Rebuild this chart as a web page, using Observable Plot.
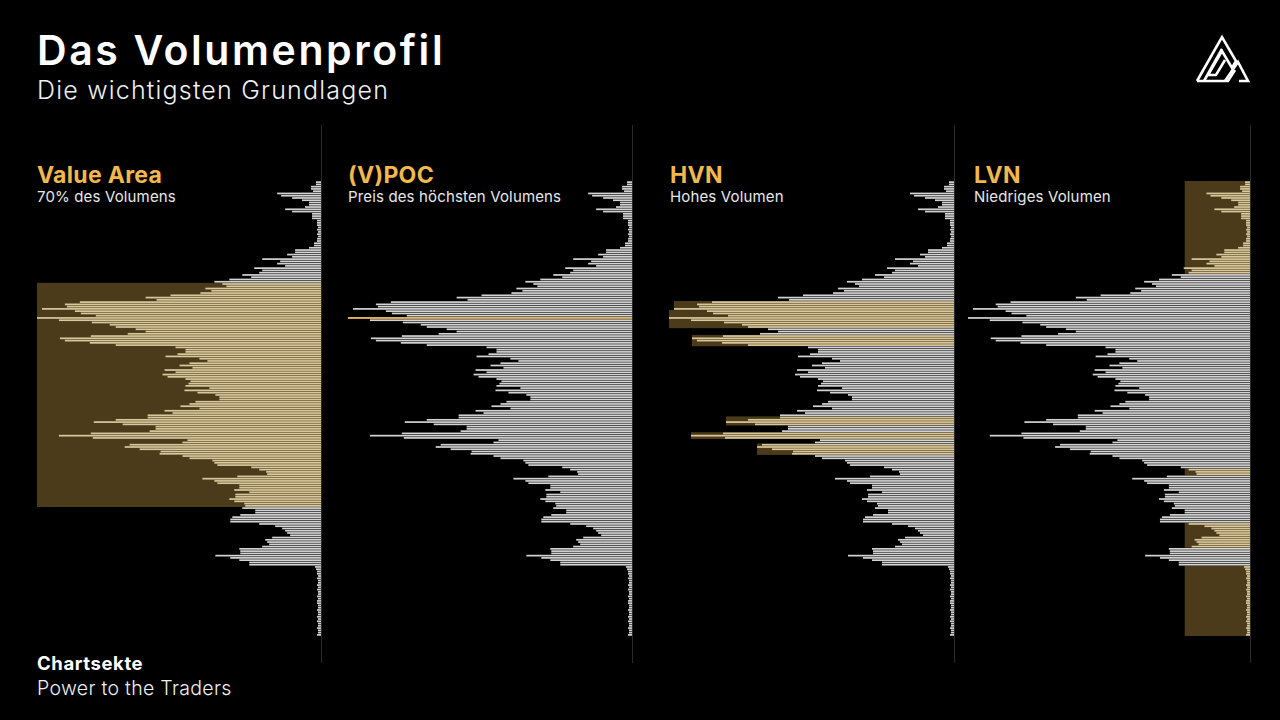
<!DOCTYPE html>
<html><head><meta charset="utf-8">
<script src="https://cdn.jsdelivr.net/npm/d3@7"></script>
<script src="https://cdn.jsdelivr.net/npm/@observablehq/plot@0.6"></script>
<style>
html,body{margin:0;padding:0;background:#000;}
body{width:1280px;height:720px;position:relative;overflow:hidden;font-family:Inter,"Open Sans",sans-serif;color:#fff;}
.t{position:absolute;white-space:nowrap;line-height:1;}
.panel{position:absolute;}
.divider{position:absolute;width:1px;background:#2a2a2a;}
</style></head><body>
<script>
// Volume per price row, top (highest price) to bottom
const volume = [
  5,5,10,10,8,44,40,29,19,12,
  12,16,36,29,9,9,9,4,4,4,
  3,4,3,4,3,4,4,7,7,12,
  26,26,34,29,59,41,44,36,67,59,
  62,79,70,92,107,99,95,116,110,121,
  151,176,165,242,257,255,280,247,241,226,
  285,263,230,212,206,186,176,194,231,262,
  257,232,206,146,136,136,144,156,122,114,
  132,142,129,157,146,159,154,136,131,133,
  136,112,137,124,106,102,102,126,132,141,
  122,
  157,149,174,174,206,228,199,166,166,172,
  231,263,229,134,139,192,197,182,161,162,
  139,132,109,107,104,70,62,55,54,84,
  119,107,104,82,82,87,72,86,86,92,
  87,77,76,79,66,66,81,89,91,91,
  62,
  46,39,36,34,31,49,56,54,52,59,
  82,81,81,106,91,82,72,72,6,5,
  4,4,3,4,3,3,4,3,4,3,
  3,4,3,4,4,3,3,4,3,3,
  4,3,4,3,3,4,3,3,4
];
const panelTitles = ["Value Area", "(V)POC", "HVN", "LVN"];
const panelSubtitles = ["70% des Volumens", "Preis des höchsten Volumens", "Hohes Volumen", "Niedriges Volumen"];
const valueAreaRows = [[45, 143]];
const hvnRows = [[53, 56], [57, 64], [68, 72], [104, 107], [111, 113], [116, 120]];
const lvnRows = [[0, 40], [127, 129], [151, 161], [170, 200]];
const lvnThreshold = 66;
const title = "Das Volumenprofil";
const subtitle = "Die wichtigsten Grundlagen";
const footer = ["Chartsekte", "Power to the Traders"];

// styling / layout
const GRAY = "#d3d3d3", TAN = "#d9c89c", BROWN = "#4b3b1b", GOLD = "#f2b84b", POC = "#e6b55a";
const layout = [[37, 321, 37], [348, 632, 348], [669, 954, 670], [968, 1250, 974]];
const TOP = 170, H = 470;

const maxV = d3.max(volume);
const pocIndex = d3.maxIndex(volume);
const rows = volume.map((v, i) => ({i, v}));
const zoneMax = ([s, e]) => d3.max(volume.slice(s, e + 1));

function addText(txt, x, baseline, size, weight, color, ls) {
  const d = document.createElement("div");
  d.className = "t";
  d.textContent = txt;
  d.style.left = x + "px";
  d.style.top = (baseline - 0.86 * size) + "px";
  d.style.fontSize = size + "px";
  d.style.fontWeight = weight;
  d.style.color = color;
  d.style.letterSpacing = (ls || 0) + "px";
  document.body.appendChild(d);
}

function inZones(zones, i) { return zones.some(([s, e]) => i >= s && i <= e); }

for (let k = 0; k < 4; k++) {
  const [left, right, tx] = layout[k];
  const W = right - left;
  let zones = [], depthOf = zoneMax, hl = () => false;
  if (k === 0) { zones = valueAreaRows; hl = i => inZones(valueAreaRows, i); }
  if (k === 2) { zones = hvnRows; hl = i => inZones(hvnRows, i); }
  if (k === 3) { zones = lvnRows; depthOf = () => lvnThreshold; hl = i => inZones(lvnRows, i); }
  const zoneData = zones.map(z => ({s: z[0], e: z[1], d: depthOf(z)}));
  const marks = [
    Plot.rect(zoneData, {x1: () => 0, x2: "d", y1: "s", y2: d => d.e + 1, fill: BROWN}),
    Plot.rect(rows.filter(r => !hl(r.i) && !(k === 1 && r.i === pocIndex)), {x1: () => 0, x2: "v", y1: "i", y2: d => d.i + 1, insetTop: 0.28, insetBottom: 0.28, fill: GRAY}),
    Plot.rect(rows.filter(r => hl(r.i)), {x1: () => 0, x2: "v", y1: "i", y2: d => d.i + 1, insetTop: 0.28, insetBottom: 0.28, fill: TAN})
  ];
  if (k === 1) marks.push(Plot.rect(rows.filter(r => r.i === pocIndex), {x1: () => 0, x2: "v", y1: "i", y2: d => d.i + 1, insetTop: 0.2, insetBottom: 0.2, fill: POC}));
  const chart = Plot.plot({
    width: W, height: H,
    marginLeft: 0, marginRight: 0, marginTop: 181 - TOP, marginBottom: TOP + H - 636,
    x: {domain: [0, maxV], reverse: true, axis: null},
    y: {domain: [0, volume.length], reverse: true, axis: null},
    style: {background: "transparent"},
    marks
  });
  const wrap = document.createElement("div");
  wrap.className = "panel";
  wrap.style.left = left + "px";
  wrap.style.top = TOP + "px";
  wrap.appendChild(chart);
  document.body.appendChild(wrap);
  const dv = document.createElement("div");
  dv.className = "divider";
  dv.style.left = right + "px";
  dv.style.top = "125px";
  dv.style.height = "538px";
  document.body.appendChild(dv);
  addText(panelTitles[k], tx, 184, 23, 700, GOLD, 0.3);
  addText(panelSubtitles[k], tx, 202, 15, 400, "#e8e8e8", 0.15);
}

addText(title, 37, 65.5, 41, 600, "#ffffff", 2.6);
addText(subtitle, 37, 99.5, 25, 300, "#f0f0f0", 1.2);
addText(footer[0], 37, 670, 18.5, 700, "#ffffff", 0.6);
addText(footer[1], 37, 696, 19.5, 300, "#f0f0f0", 0.3);

// logo
const ns = "http://www.w3.org/2000/svg";
const logo = document.createElementNS(ns, "svg");
logo.setAttribute("width", "60"); logo.setAttribute("height", "56");
logo.style.position = "absolute"; logo.style.left = "1192px"; logo.style.top = "32px";
logo.innerHTML = '<g fill="none" stroke="#fff" stroke-width="2.6" stroke-linejoin="miter">' +
  '<path d="M5,49 L30,5 L44,29 L40,36 L30,19 L16,43 L24,43 L33,28"/>' +
  '<path d="M12,49 L30,17"/>' +
  '<path d="M33,49 L46,30 L56,49 L47,49"/>' +
  '<path d="M5,49 L36,49 L43,38"/></g>';
document.body.appendChild(logo);
</script>
</body></html>
